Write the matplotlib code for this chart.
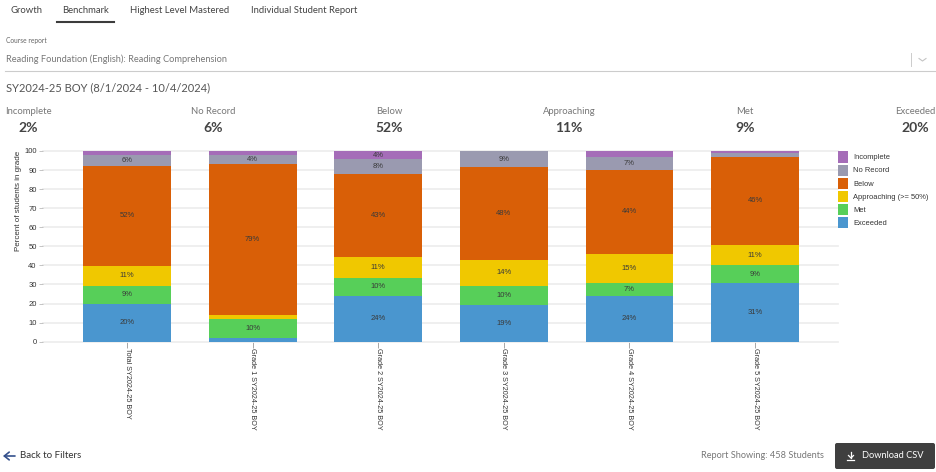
import matplotlib
import matplotlib.pyplot as plt
from matplotlib.patches import FancyBboxPatch

matplotlib.use("Agg")

W, H = 937, 472

grades = ["Total SY2024-25 BOY", "Grade 1 SY2024-25 BOY", "Grade 2 SY2024-25 BOY",
          "Grade 3 SY2024-25 BOY", "Grade 4 SY2024-25 BOY", "Grade 5 SY2024-25 BOY"]

# bottom to top of the stack
exceeded = [20, 2, 24, 19.2, 24, 31]
met = [9.3, 10, 9.6, 10, 7, 9]
approaching = [10.6, 2, 11, 13.8, 15.2, 10.7]
below = [52.1, 79.4, 43.4, 48.4, 44, 46.3]
no_record = [6, 4.4, 7.7, 8.6, 6.8, 2]
incomplete = [2, 2.2, 4.3, 0, 3, 1]

series_names = ["Exceeded", "Met", "Approaching (>= 50%)", "Below", "No Record", "Incomplete"]
series_values = [exceeded, met, approaching, below, no_record, incomplete]
series_colors = ["#4a96cf", "#57cf59", "#f0c800", "#d95f07", "#9a9ab0", "#a56db8"]

summary_names = ["Incomplete", "No Record", "Below", "Approaching", "Met", "Exceeded"]
summary_values = ["2%", "6%", "52%", "11%", "9%", "20%"]

tabs = ["Growth", "Benchmark", "Highest Level Mastered", "Individual Student Report"]

plt.rcParams["font.family"] = ["Liberation Sans", "DejaVu Sans"]
UI_FONT = ["Lato", "DejaVu Sans"]

fig = plt.figure(figsize=(W / 100, H / 100), dpi=100)

# page chrome, in pixel coordinates
page = fig.add_axes([0, 0, 1, 1])
page.set_xlim(0, W)
page.set_ylim(H, 0)
page.axis("off")

for name, x in zip(tabs, [11, 62, 130, 251]):
    page.text(x, 10.5, name, fontsize=6.85, color="#444444", family=UI_FONT, va="center")
page.plot([57, 114], [22, 22], color="#3c3c3c", lw=1.5)

page.text(6, 41, "Course report", fontsize=4.8, color="#666666", family=UI_FONT, va="center")
page.text(6, 59, "Reading Foundation (English): Reading Comprehension", fontsize=6.7,
          color="#777777", family=UI_FONT, va="center")
page.plot([5, 935], [70.5, 70.5], color="#cccccc", lw=0.8)
page.plot([911.5, 911.5], [53, 66], color="#cccccc", lw=0.7)
page.plot([919, 922.5, 926], [58.5, 61, 58.5], color="#c4c4c4", lw=0.8)

page.text(6, 88, "SY2024-25 BOY (8/1/2024 - 10/4/2024)", fontsize=8.0, color="#555555",
          family=UI_FONT, va="center")

name_x = [28, 213, 389, 569, 745, 915]
for name, val, x in zip(summary_names, summary_values, name_x):
    page.text(x, 112, name, fontsize=6.8, color="#777777", family=UI_FONT, ha="center", va="center")
    page.text(x, 128, val, fontsize=10, color="#444444", family=UI_FONT, weight="bold",
              ha="center", va="center")

page.text(19, 201, "Percent of students in grade", fontsize=5.8, color="#333333", rotation=90,
          ha="center", va="center")

# footer
page.annotate("", xy=(3, 456), xytext=(15, 456),
              arrowprops=dict(arrowstyle="->,head_width=0.28,head_length=0.35", color="#34508c",
                              lw=1.2, shrinkA=0, shrinkB=0))
page.text(20, 456, "Back to Filters", fontsize=7, color="#333333", family=UI_FONT, va="center")
page.text(824, 456, "Report Showing: 458 Students", fontsize=6.6, color="#777777",
          family=UI_FONT, ha="right", va="center")
page.add_patch(FancyBboxPatch((836, 444), 98, 24, boxstyle="round,pad=1,rounding_size=2",
                              fc="#3f3f3f", ec="none"))
page.text(862, 456, "Download CSV", fontsize=6.7, color="white", family=UI_FONT, va="center")
page.plot([851, 851], [452, 458], color="white", lw=0.9)
page.plot([848.5, 851, 853.5], [455.5, 458, 455.5], color="white", lw=0.9)
page.plot([847.5, 854.5], [460, 460], color="white", lw=0.9)

# chart
ax = fig.add_axes([43 / W, (H - 341.7) / H, (838 - 43) / W, 190.7 / H])
ax.patch.set_alpha(0)
positions = list(range(len(grades)))
bottoms = [0] * len(grades)
for name, values, color in zip(series_names, series_values, series_colors):
    ax.bar(positions, values, width=0.7, bottom=bottoms, color=color, label=name, zorder=3, clip_on=False)
    for i, v in enumerate(values):
        if v >= 3.5:
            ax.text(i, bottoms[i] + v / 2, f"{round(v)}%", fontsize=5.5, color="#3a3a3a",
                    ha="center", va="center", zorder=4)
    bottoms = [b + v for b, v in zip(bottoms, values)]

ax.set_xlim(-0.669, 5.66)
ax.set_ylim(0, 100)
ax.set_yticks(range(0, 101, 10))
ax.set_xticks(positions)
ax.set_xticklabels(grades, rotation=270, fontsize=5.2, color="#333333", ha="center", va="top")
ax.tick_params(axis="y", labelsize=5.5, labelcolor="#333333", length=3, width=0.6, color="#bbbbbb", pad=1.5)
ax.tick_params(axis="x", length=4, width=0.6, color="#999999", pad=0.5)
ax.grid(axis="y", color="#ececec", lw=1.2, zorder=0, clip_on=False)
for s in ax.spines.values():
    s.set_visible(False)

handles, labels = ax.get_legend_handles_labels()
ax.legend(handles[::-1], labels[::-1], loc="upper left", bbox_to_anchor=(838 / W, (H - 151.5) / H),
          bbox_transform=fig.transFigure, frameon=False, fontsize=5.4, borderpad=0, borderaxespad=0,
          handlelength=1.33, handleheight=1.9, labelspacing=0.26, handletextpad=0.7, labelcolor="#333333")

fig.savefig("out.png", dpi=100)
plt.close(fig)
